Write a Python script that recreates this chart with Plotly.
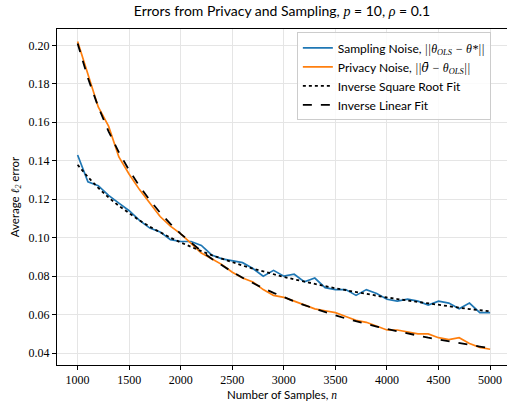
import plotly.graph_objects as go

n_samples = list(range(1000, 5001, 100))

sampling_noise = [0.143, 0.129, 0.127, 0.122, 0.118, 0.114, 0.109, 0.105, 0.103, 0.099,
                  0.098, 0.098, 0.096, 0.091, 0.089, 0.088, 0.087, 0.084, 0.080, 0.083,
                  0.080, 0.081, 0.077, 0.079, 0.074, 0.073, 0.073, 0.070, 0.073, 0.071,
                  0.068, 0.067, 0.068, 0.067, 0.065, 0.067, 0.066, 0.063, 0.066, 0.061,
                  0.061]

privacy_noise = [0.202, 0.185, 0.168, 0.158, 0.142, 0.133, 0.125, 0.118, 0.111, 0.106,
                 0.102, 0.097, 0.092, 0.089, 0.086, 0.082, 0.079, 0.077, 0.073, 0.070,
                 0.069, 0.067, 0.065, 0.063, 0.062, 0.061, 0.059, 0.057, 0.056, 0.054,
                 0.052, 0.052, 0.051, 0.050, 0.050, 0.048, 0.047, 0.048, 0.045, 0.043,
                 0.042]

inv_sqrt_fit = [0.1379, 0.1315, 0.1259, 0.1209, 0.1165, 0.1126, 0.1090, 0.1057, 0.1028, 0.1000,
                0.0975, 0.0951, 0.0930, 0.0909, 0.0890, 0.0872, 0.0855, 0.0839, 0.0824, 0.0810,
                0.0796, 0.0783, 0.0771, 0.0759, 0.0748, 0.0737, 0.0727, 0.0717, 0.0707, 0.0698,
                0.0689, 0.0681, 0.0673, 0.0665, 0.0657, 0.0650, 0.0643, 0.0636, 0.0629, 0.0623,
                0.0617]

inv_linear_fit = [0.2010, 0.1830, 0.1680, 0.1553, 0.1444, 0.1350, 0.1268, 0.1195, 0.1130, 0.1072,
                  0.1020, 0.0973, 0.0930, 0.0891, 0.0855, 0.0822, 0.0792, 0.0763, 0.0737, 0.0713,
                  0.0690, 0.0669, 0.0649, 0.0630, 0.0612, 0.0596, 0.0580, 0.0565, 0.0551, 0.0538,
                  0.0525, 0.0513, 0.0501, 0.0490, 0.0480, 0.0470, 0.0460, 0.0451, 0.0443, 0.0434,
                  0.0426]

x_ticks = [1000, 1500, 2000, 2500, 3000, 3500, 4000, 4500, 5000]
y_ticks = [0.04, 0.06, 0.08, 0.10, 0.12, 0.14, 0.16, 0.18, 0.20]

SANS = "Lato, 'DejaVu Sans', sans-serif"
SERIF = "'Liberation Serif', 'DejaVu Serif', serif"
SERIF2 = "'DejaVu Serif', serif"

def m(s, fam=SERIF):
    return f"<span style=\"font-family:{fam}\"><i>{s}</i></span>"

fig = go.Figure()
fig.add_trace(go.Scatter(x=n_samples, y=sampling_noise, mode="lines",
                         line=dict(color="#1f77b4", width=1.7),
                         name="Sampling Noise, " + m("||θ<sub>OLS</sub> − θ*||")))
fig.add_trace(go.Scatter(x=n_samples, y=privacy_noise, mode="lines",
                         line=dict(color="#ff7f0e", width=1.7),
                         name="Privacy Noise, " + m("||") + m("θ\u0304", SERIF2) + m(" − θ<sub>OLS</sub>||")))
fig.add_trace(go.Scatter(x=n_samples, y=inv_sqrt_fit, mode="lines",
                         line=dict(color="black", width=1.8, dash="dot"),
                         name="Inverse Square Root Fit"))
fig.add_trace(go.Scatter(x=n_samples, y=inv_linear_fit, mode="lines",
                         line=dict(color="black", width=1.8, dash="dash"),
                         name="Inverse Linear Fit"))

fig.update_layout(
    width=507, height=402,
    margin=dict(l=57, r=0, t=29, b=37),
    plot_bgcolor="white", paper_bgcolor="white",
    font=dict(family=SANS, size=11, color="black"),
    title=dict(text="Errors from Privacy and Sampling, " + m("p") + " = 10, " + m("ρ") + " = 0.1",
               x=0.5, xref="paper", xanchor="center", y=0.972, yanchor="middle",
               font=dict(size=14, family=SANS)),
    legend=dict(x=0.533, y=0.99, xanchor="left", yanchor="top",
                bgcolor="rgba(255,255,255,0.85)", bordercolor="#cccccc", borderwidth=1,
                font=dict(size=12, family=SANS), tracegroupgap=0, itemwidth=30),
    showlegend=True,
)
fig.update_xaxes(range=[800, 5164], tickvals=x_ticks, ticktext=[str(v) for v in x_ticks],
                 showgrid=True, gridcolor="#e5e5e5", gridwidth=1,
                 showline=True, linecolor="black", linewidth=1, mirror=True,
                 ticks="outside", ticklen=4, tickcolor="black",
                 tickfont=dict(family=SERIF, size=12),
                 title=dict(text="Number of Samples, " + m("n"), standoff=4, font=dict(size=11.5)),
                 zeroline=False)
fig.update_yaxes(range=[0.0338, 0.2085], tickvals=y_ticks, ticktext=[f"{v:.2f}" for v in y_ticks],
                 showgrid=True, gridcolor="#e5e5e5", gridwidth=1,
                 showline=True, linecolor="black", linewidth=1, mirror=False,
                 ticks="outside", ticklen=4, tickcolor="black",
                 tickfont=dict(family=SERIF, size=12),
                 title=dict(text="Average " + m("ℓ<sub>2</sub>") + " error", standoff=6, font=dict(size=11.5)),
                 zeroline=False)

fig.write_html("out.html")
